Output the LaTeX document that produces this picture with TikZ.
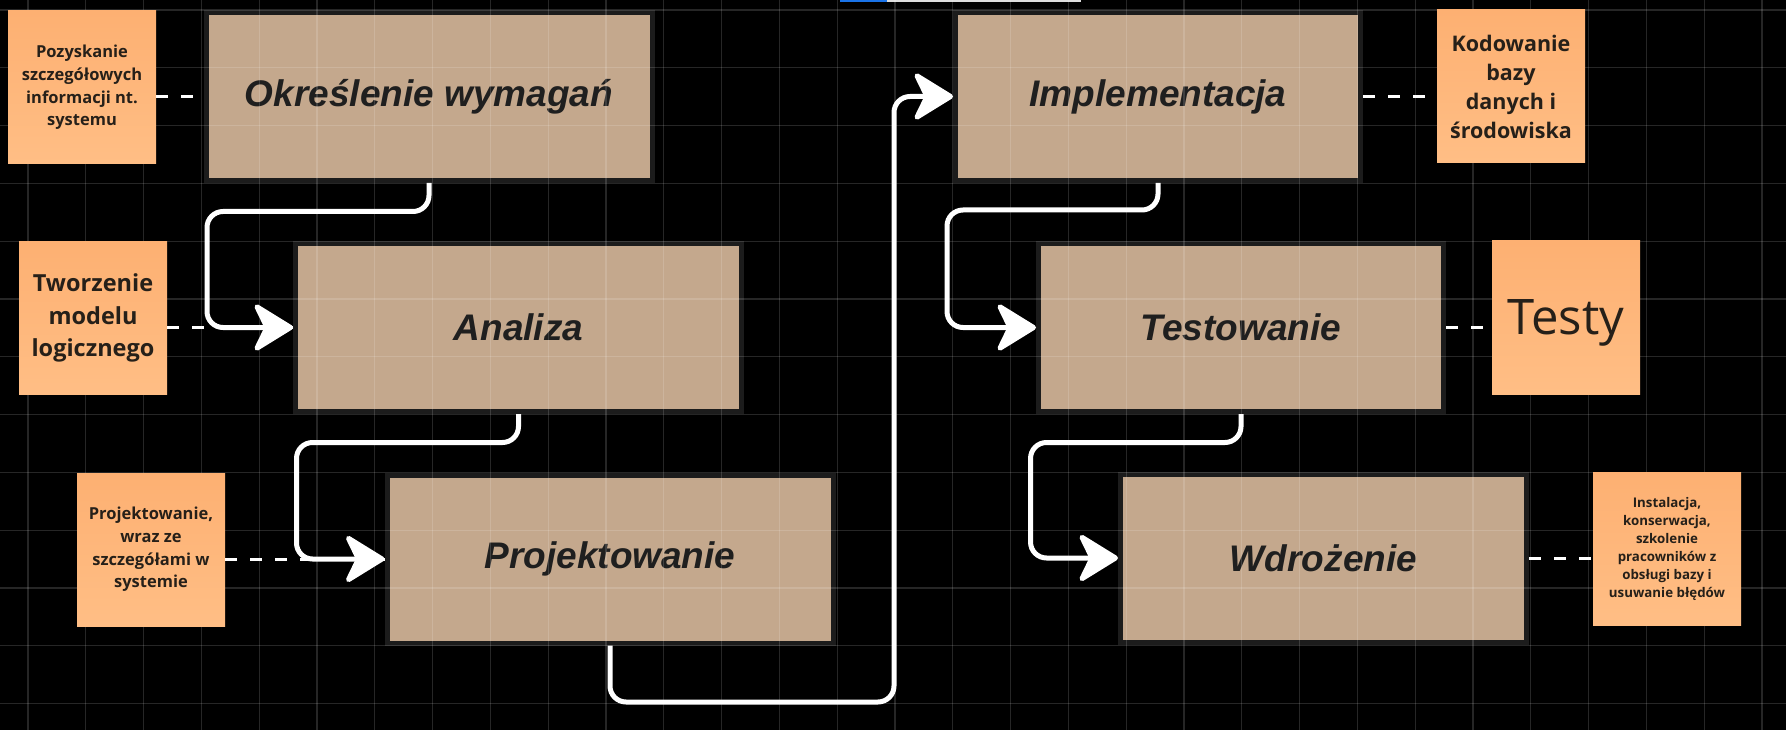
\documentclass[tikz,border=0pt]{standalone}
\usepackage{fontspec}
\usepackage{xcolor}
\usetikzlibrary{arrows.meta}
\newfontfamily\etapfont{Liberation Sans}
\newfontfamily\notefont{Open Sans}
\definecolor{etapfill}{HTML}{C4A88D}
\definecolor{etapline}{HTML}{1C1C1C}
\definecolor{etaptext}{HTML}{1F1F1F}
\definecolor{notetop}{HTML}{FDB072}
\definecolor{notebot}{HTML}{FFBE85}
\definecolor{notetext}{HTML}{262019}
\definecolor{barblue}{HTML}{1A73E8}
\tikzset{
  etap/.style={rectangle,draw=etapline,line width=5pt,fill=etapfill,minimum width=446pt,minimum height=168pt,text=etaptext,font=\etapfont\bfseries\itshape\fontsize{37}{41}\selectfont},
  note/.style={rectangle,top color=notetop,bottom color=notebot,minimum width=148pt,minimum height=153pt,inner sep=0pt,text=notetext,align=center},
  siatka/.style={draw=white,opacity=0.15,line width=1.2pt},
  link/.style={draw=white,line width=3pt,dash pattern=on 12pt off 13pt},
  flow/.style={draw=white,line width=5pt,rounded corners=16pt,-{Stealth[length=44pt,width=54pt,inset=13pt,round]}}
}

\begin{document}
\begin{tikzpicture}[x=1pt,y=-1pt]
  \fill[black] (0,0) rectangle (1786,730);
  \useasboundingbox (0,0) rectangle (1786,730);
  \fill[barblue] (840,0) rectangle (887,2);
  \fill[white!87!black] (887,0) rectangle (1081,2);

  \node[etap] (okr) at (429,96.5) {Określenie wymagań};
  \node[etap] (an) at (518.5,327.5) {Analiza};
  \node[etap] (pr) at (610,559) {Projektowanie};
  \node[etap,minimum width=405pt] (impl) at (1158,96.5) {Implementacja};
  \node[etap,minimum width=405pt] (test) at (1241,327.5) {Testowanie};
  \node[etap,minimum width=406pt] (wd) at (1323.5,558) {Wdrożenie};

  \foreach \i in {0,...,30}
    \draw[siatka] ({27.9+57.8*\i},0) -- ++(0,730);
  \foreach \j in {0,...,12}
    \draw[siatka] (0,{10+57.8*\j}) -- ++(1786,0);

  \node[note,font=\notefont\bfseries\fontsize{16.5}{22.7}\selectfont] (s1) at (82,87.5) {Pozyskanie\\szczegółowych\\informacji nt.\\systemu};
  \node[note,font=\notefont\bfseries\fontsize{21.5}{29}\selectfont] (s2) at (1511,86.5) {Kodowanie\\bazy\\danych i\\środowiska};
  \node[note,font=\notefont\bfseries\fontsize{23.5}{32.5}\selectfont] (s3) at (93,318) {Tworzenie\\modelu\\logicznego};
  \node[note,font=\notefont\bfseries\fontsize{16.5}{22.8}\selectfont] (s4) at (151,549.5) {Projektowanie,\\wraz ze\\szczegółami w\\systemie};
  \node[note,font=\notefont\fontsize{49}{52}\selectfont] (s5) at (1566,317.5) {\raisebox{-5pt}[\height][\depth]{Testy}};
  \node[note,font=\notefont\bfseries\fontsize{13.3}{18}\selectfont] (s6) at (1667,548.5) {Instalacja,\\konserwacja,\\szkolenie\\pracowników z\\obsługi bazy i\\usuwanie błędów};

  \draw[link] (s1.east |- okr.west) -- (okr.west);
  \draw[link] (impl.east) -- (impl.east -| s2.west);
  \draw[link] (s3.east |- an.west) -- (an.west);
  \draw[link] (s4.east |- pr.west) -- (pr.west);
  \draw[link] (test.east) -- (test.east -| s5.west);
  \draw[link] (wd.east) -- (wd.east -| s6.west);

  \draw[flow] (okr.south) -- ++(0,28.5) -| ([xshift=-86pt]an.west) -- (an.west);
  \draw[flow] (an.south) -- ++(0,28.5) -| ([xshift=-88pt]pr.west) -- (pr.west);
  \draw[flow] (pr.south) -- ++(0,56.5) -| ([xshift=-59pt]impl.west) -- (impl.west);
  \draw[flow] (impl.south) -- ++(0,27) -| ([xshift=-89pt]test.west) -- (test.west);
  \draw[flow] (test.south) -- ++(0,28.5) -| ([xshift=-87.5pt]wd.west) -- (wd.west);

\end{tikzpicture}
\end{document}
